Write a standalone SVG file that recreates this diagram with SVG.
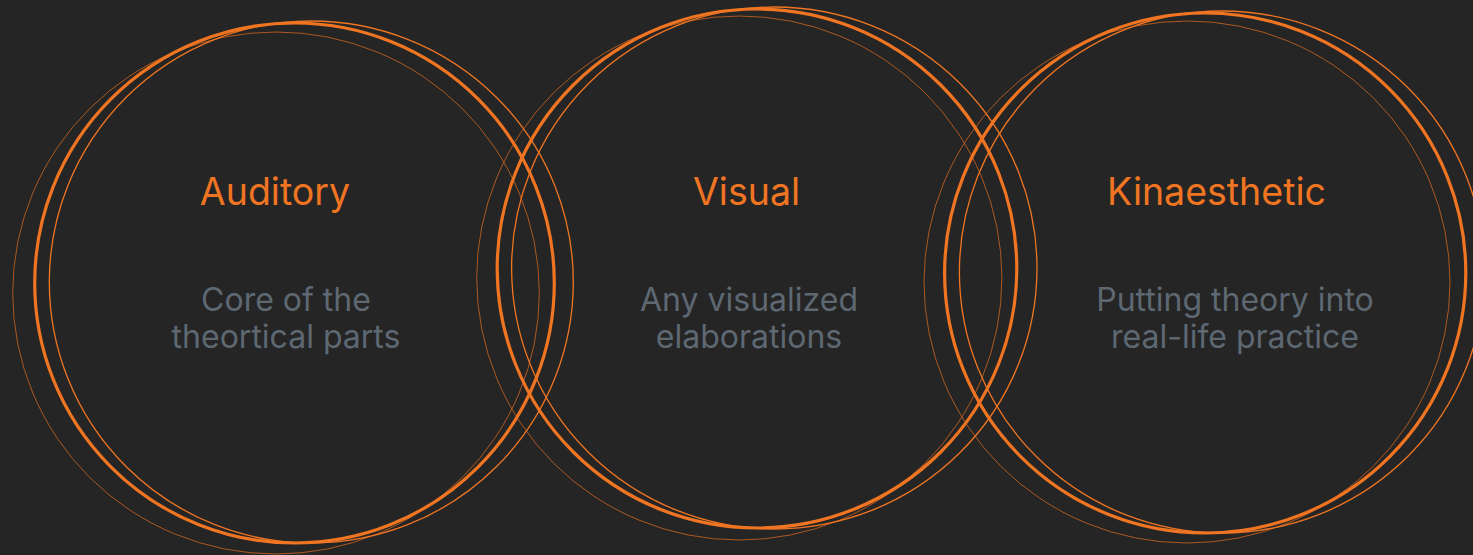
<svg xmlns="http://www.w3.org/2000/svg" width="1473" height="555" viewBox="0 0 1473 555">
  <style>
    .thick { fill: none; stroke: #F07522; stroke-width: 3.2; }
    .mid { fill: none; stroke: #F07522; stroke-width: 1.3; }
    .thin { fill: none; stroke: #E86E1E; stroke-width: 0.7; }
    .title { font-family: Inter, "Noto Sans", "Liberation Sans", sans-serif; font-size: 37.5px; fill: #F07522; text-anchor: middle; }
    .sub { font-family: Inter, "Noto Sans", "Liberation Sans", sans-serif; font-size: 32px; fill: #5D6872; text-anchor: middle; }
  </style>
  <rect x="0" y="0" width="1473" height="555" fill="#252525"/>
  <g id="connectors"/>
  <g id="auditory">
    <ellipse class="thin" cx="276" cy="293" rx="263.3" ry="261"/>
    <ellipse class="mid" cx="311.3" cy="282" rx="262" ry="261"/>
    <ellipse class="thick" cx="294.5" cy="283" rx="259.8" ry="260"/>
    <text class="title" x="275" y="205">Auditory</text>
    <text class="sub" x="286" y="311">Core of the</text>
    <text class="sub" x="286" y="348">theortical parts</text>
  </g>
  <g id="visual">
    <ellipse class="thin" cx="739.3" cy="278" rx="262.6" ry="262"/>
    <ellipse class="mid" cx="774.3" cy="268" rx="262.7" ry="261"/>
    <ellipse class="thick" cx="757" cy="268.5" rx="259.8" ry="259.5"/>
    <text class="title" x="746.5" y="205">Visual</text>
    <text class="sub" x="749" y="311">Any visualized</text>
    <text class="sub" x="749" y="348">elaborations</text>
  </g>
  <g id="kinaesthetic">
    <ellipse class="thin" cx="1187" cy="282" rx="263" ry="261"/>
    <ellipse class="mid" cx="1222" cy="272" rx="262.6" ry="261"/>
    <ellipse class="thick" cx="1205.2" cy="273" rx="260.6" ry="260"/>
    <text class="title" x="1216.5" y="205">Kinaesthetic</text>
    <text class="sub" x="1235" y="311">Putting theory into</text>
    <text class="sub" x="1235" y="348">real-life practice</text>
  </g>
</svg>
